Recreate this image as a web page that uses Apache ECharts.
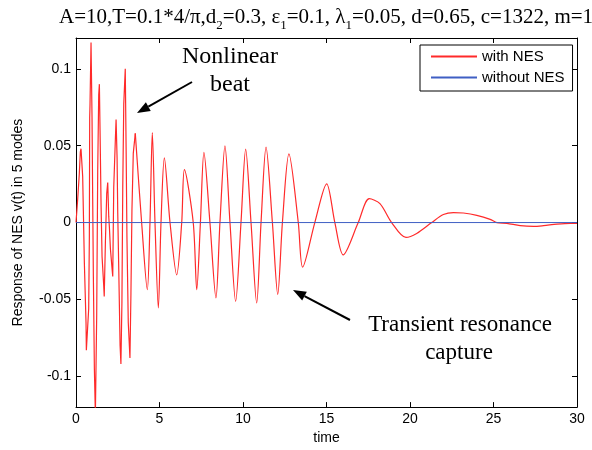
<!DOCTYPE html>
<html>
<head>
<meta charset="utf-8">
<script src="https://cdn.jsdelivr.net/npm/echarts@6/dist/echarts.min.js"></script>
<style>html,body{margin:0;padding:0;background:#fff}#c{width:592px;height:450px}</style>
</head>
<body>
<div id="c"></div>
<script>
// early (beating) part of the response with NES
const timeEarly = [0,0.1,0.2,0.26,0.3,0.4,0.44,0.5,0.6,0.62,0.76,0.8,0.82,0.84,0.9,0.96,1.0,1.04,1.1,1.16,1.24,1.3,1.36,1.4,1.44,1.5,1.56,1.66,1.69,1.76,1.84,1.9,1.96,2.0,2.06,2.16,2.2,2.26,2.36,2.4,2.46,2.5,2.56,2.64,2.69,2.75,2.8,2.86,2.95,3.0,3.05,3.13,3.23,3.29,3.35,3.43,3.55];
const withNESEarly = [0,0.015,0.032,0.046,0.048,0.03,0.008,-0.026,-0.065,-0.083,-0.056,-0.009,0.068,0.077,0.117,0.068,0.015,-0.035,-0.095,-0.125,-0.06,0.034,0.083,0.09,0.06,0.012,-0.022,-0.041,-0.048,-0.013,0.019,0.026,0.004,-0.003,-0.017,-0.03,-0.035,0.023,0.055,0.067,0.042,0.006,-0.03,-0.08,-0.092,-0.052,0.023,0.077,0.1,0.049,-0.009,-0.065,-0.088,-0.046,0.008,0.045,0.058];
// later (resonance capture and decay) part of the response with NES
const timeLate = [3.55,3.93,4.27,4.43,4.57,4.73,4.93,5.09,5.29,5.63,6.03,6.33,6.49,7.02,7.23,7.45,7.66,8.02,8.38,8.62,8.92,9.22,9.56,9.88,10.16,10.48,10.82,11.08,11.38,11.76,12.08,12.36,12.75,13.31,13.57,14.3,15.01,15.5,16.0,16.9,17.56,18.2,18.9,19.76,20.4,21.3,22.0,22.6,23.2,24.0,24.8,25.2,25.8,26.6,27.4,28.0,28.8,29.6,30];
const withNESLate = [0.058,0,-0.0437,0,0.0585,0,-0.0555,0,0.042,0,-0.034,0,0.0344,0,-0.0437,0,0.0456,0,-0.049,0,0.0499,0,-0.0512,0,0.0477,0,-0.0523,0,0.049,0,-0.0467,0,0.0446,0,-0.029,0,0.0252,0,-0.021,0,0.0155,0.0123,0,-0.0097,-0.0071,0,0.0052,0.0065,0.0062,0.0047,0.0021,0,-0.0005,-0.002,-0.0025,-0.002,-0.001,-0.0005,-0.0005];
const timeWithout = [0,30];
const withoutNES = [0,0];
const yTicks = [-0.1,-0.05,0,0.05,0.1];
const seriesNames = ['with NES','without NES'];

const chart = echarts.init(document.getElementById('c'));
const pairs = (xs, ys) => xs.map((x,i)=>[x, ys[i]]);
const sans = 'Liberation Sans';
const serif = 'Liberation Serif';
const RED = '#ff2a2a', BLUE = '#3f5fc4';

function arrow(x1,y1,x2,y2){
  const dx=x2-x1, dy=y2-y1, L=Math.hypot(dx,dy), ux=dx/L, uy=dy/L;
  const hl=13, hw=5;
  const bx=x2-ux*hl, by=y2-uy*hl;
  return [
    {type:'line', shape:{x1:x1,y1:y1,x2:bx,y2:by}, style:{stroke:'#000',lineWidth:2}},
    {type:'polygon', shape:{points:[[x2,y2],[bx-uy*hw,by+ux*hw],[bx+uy*hw,by-ux*hw]]}, style:{fill:'#000'}}
  ];
}

const lineCommon = {show:true, onZero:false, lineStyle:{color:'#000', width:1}};
const tickCommon = {show:true, inside:true, length:5, lineStyle:{color:'#000'}};

chart.setOption({
  animation:false,
  backgroundColor:'#fff',
  title:{
    left:54, top:2,
    text:'A=10,T=0.1*4/π,d{s|2}=0.3, ε{s|1}=0.1, λ{s|1}=0.05, d=0.65, c=1322, m=1',
    textStyle:{
      fontFamily:serif, fontSize:21, fontWeight:'normal', color:'#000',
      rich:{ s:{fontFamily:serif, fontSize:13, color:'#000', verticalAlign:'bottom', padding:[0,0,-4,0]} }
    }
  },
  grid:{left:76, right:15, top:38, bottom:40},
  legend:{
    left:420, top:45, orient:'vertical',
    data:seriesNames,
    itemWidth:46, itemHeight:15, itemGap:6,
    padding:[4,8,6,10],
    itemStyle:{opacity:0},
    borderColor:'#000', borderWidth:1, backgroundColor:'#fff',
    textStyle:{fontFamily:sans, fontSize:15, color:'#000'}
  },
  xAxis:[
    {type:'value', min:0, max:30, interval:5, position:'bottom',
      name:'time', nameLocation:'middle', nameGap:23,
      nameTextStyle:{fontFamily:sans, fontSize:14, color:'#000'},
      axisLine:lineCommon, axisTick:tickCommon, splitLine:{show:false},
      axisLabel:{fontFamily:sans, fontSize:14, color:'#000', margin:5}},
    {type:'value', min:0, max:30, interval:5, position:'top',
      axisLine:lineCommon, axisTick:tickCommon, splitLine:{show:false},
      axisLabel:{show:false}}
  ],
  yAxis:[
    {type:'value', min:-0.12, max:0.12, position:'left',
      name:'Response of NES v(t) in 5 modes', nameLocation:'middle', nameGap:51,
      nameTextStyle:{fontFamily:sans, fontSize:14, color:'#000'},
      axisLine:lineCommon, splitLine:{show:false},
      axisTick:Object.assign({customValues:yTicks}, tickCommon),
      axisLabel:{fontFamily:sans, fontSize:14, color:'#000', margin:5, customValues:yTicks,
        formatter:v=>String(Math.round(v*100)/100)}},
    {type:'value', min:-0.12, max:0.12, position:'right',
      axisLine:lineCommon, splitLine:{show:false},
      axisTick:Object.assign({customValues:yTicks}, tickCommon),
      axisLabel:{show:false, customValues:yTicks}}
  ],
  series:[
    {name:seriesNames[0], type:'line', data:pairs(timeEarly, withNESEarly), symbol:'none',
     lineStyle:{color:RED, width:1.2}, itemStyle:{color:RED}, z:2},
    {name:seriesNames[0], type:'line', data:pairs(timeLate, withNESLate), symbol:'none', smooth:0.3,
     lineStyle:{color:RED, width:1.2}, itemStyle:{color:RED}, z:2},
    {name:seriesNames[1], type:'line', data:pairs(timeWithout, withoutNES), symbol:'none',
     lineStyle:{color:BLUE, width:1}, itemStyle:{color:BLUE}, z:3}
  ],
  graphic:[
    {type:'text', x:230, y:57, style:{text:'Nonlinear', font:'24px "Liberation Serif"', fill:'#000', textAlign:'center', textVerticalAlign:'middle'}},
    {type:'text', x:230, y:85, style:{text:'beat', font:'24px "Liberation Serif"', fill:'#000', textAlign:'center', textVerticalAlign:'middle'}},
    {type:'text', x:460, y:325, style:{text:'Transient resonance', font:'23px "Liberation Serif"', fill:'#000', textAlign:'center', textVerticalAlign:'middle'}},
    {type:'text', x:459, y:353, style:{text:'capture', font:'23px "Liberation Serif"', fill:'#000', textAlign:'center', textVerticalAlign:'middle'}}
  ].concat(arrow(192,82,137,113)).concat(arrow(350,320,293,290))
});
</script>
</body>
</html>
